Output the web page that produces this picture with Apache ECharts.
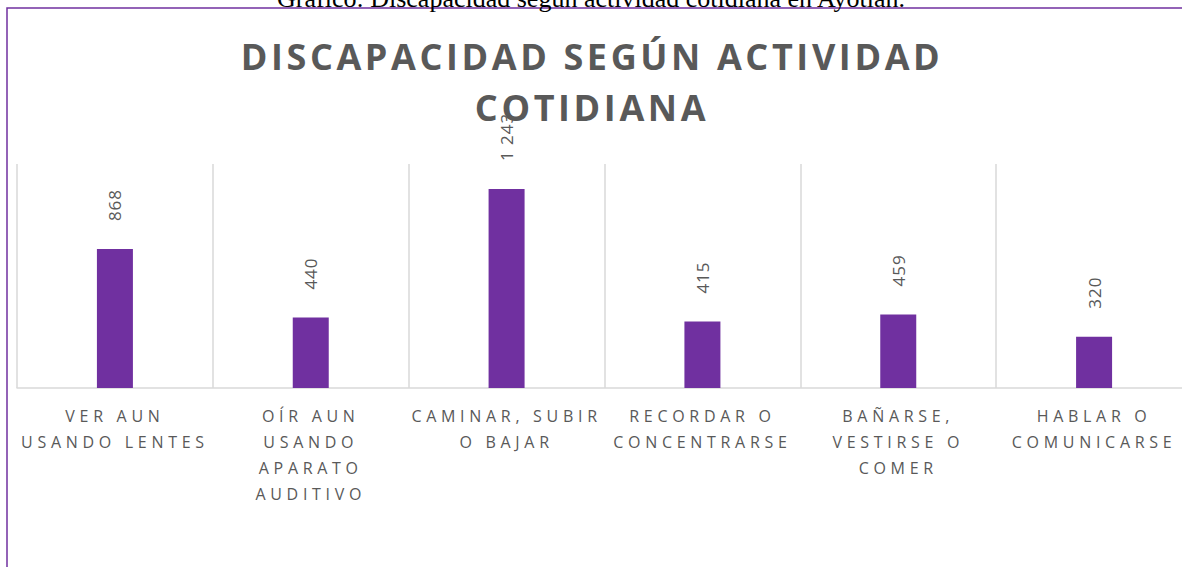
<!DOCTYPE html>
<html>
<head>
<meta charset="utf-8">
<script src="https://cdn.jsdelivr.net/npm/echarts@6/dist/echarts.min.js"></script>
<style>
  html, body { margin: 0; padding: 0; background: #ffffff; overflow: hidden; width: 1182px; height: 567px; }
  #chart { width: 1192px; height: 567px; }
  /* letter spacing per text role (matched by font size) */
  #chart text[style*="36px"] { letter-spacing: 3.6px; }
  #chart text[style*="16px"] { letter-spacing: 4.7px; }
  #chart text[style*="17px"] { letter-spacing: 1px; }
</style>
</head>
<body>
<div id="chart"></div>
<script>
const captionText = 'Gráfico: Discapacidad según actividad cotidiana en Ayotlán.';
const chartTitle = 'DISCAPACIDAD SEGÚN ACTIVIDAD\nCOTIDIANA';
const categories = [
  'VER AUN\nUSANDO LENTES',
  'OÍR AUN\nUSANDO\nAPARATO\nAUDITIVO',
  'CAMINAR, SUBIR\nO BAJAR',
  'RECORDAR O\nCONCENTRARSE',
  'BAÑARSE,\nVESTIRSE O\nCOMER',
  'HABLAR O\nCOMUNICARSE'
];
const values = [868, 440, 1243, 415, 459, 320];

const purple = '#7030A0';
const gray = '#595959';
const lineGray = '#D9D9D9';

function fmtThousands(v) {
  return String(v).replace(/\B(?=(\d{3})+(?!\d))/g, ' ');
}

const chart = echarts.init(document.getElementById('chart'), null, { renderer: 'svg' });
chart.setOption({
  animation: false,
  backgroundColor: '#ffffff',
  graphic: [
    {
      type: 'rect',
      silent: true,
      z: -10,
      shape: { x: 7, y: 8, width: 1200, height: 600 },
      style: { fill: 'none', stroke: purple, lineWidth: 1.5 }
    },
    {
      type: 'text',
      silent: true,
      x: 591,
      y: -2,
      style: {
        text: captionText,
        fontFamily: 'Liberation Serif',
        fontSize: 26,
        fill: '#000000',
        textAlign: 'center',
        textVerticalAlign: 'middle'
      }
    },
    {
      type: 'text',
      silent: true,
      z: -5,
      x: 592,
      y: 31,
      style: {
        text: chartTitle,
        fontFamily: 'Open Sans',
        fontWeight: 'bold',
        fontSize: 36,
        fill: gray,
        lineHeight: 51,
        textAlign: 'center',
        textVerticalAlign: 'top'
      }
    }
  ],
  grid: { left: 17, right: 0, top: 164, bottom: 179, containLabel: false },
  xAxis: {
    type: 'category',
    data: categories,
    boundaryGap: true,
    axisLine: { show: true, lineStyle: { color: lineGray, width: 1.5 } },
    axisTick: { show: false },
    splitLine: { show: true, interval: 0, lineStyle: { color: lineGray, width: 1.5 } },
    axisLabel: {
      interval: 0,
      margin: 15,
      fontFamily: 'Open Sans',
      fontSize: 16,
      color: gray,
      lineHeight: 26
    }
  },
  yAxis: {
    type: 'value',
    min: 0,
    max: 1400,
    show: false,
    splitLine: { show: false }
  },
  series: [{
    type: 'bar',
    data: values,
    barWidth: 36,
    itemStyle: { color: purple },
    label: {
      show: true,
      position: 'top',
      distance: 28,
      rotate: 90,
      align: 'left',
      verticalAlign: 'middle',
      fontFamily: 'Open Sans',
      fontSize: 17,
      color: gray,
      formatter: function (p) { return fmtThousands(p.value); }
    }
  }]
});
</script>
</body>
</html>
